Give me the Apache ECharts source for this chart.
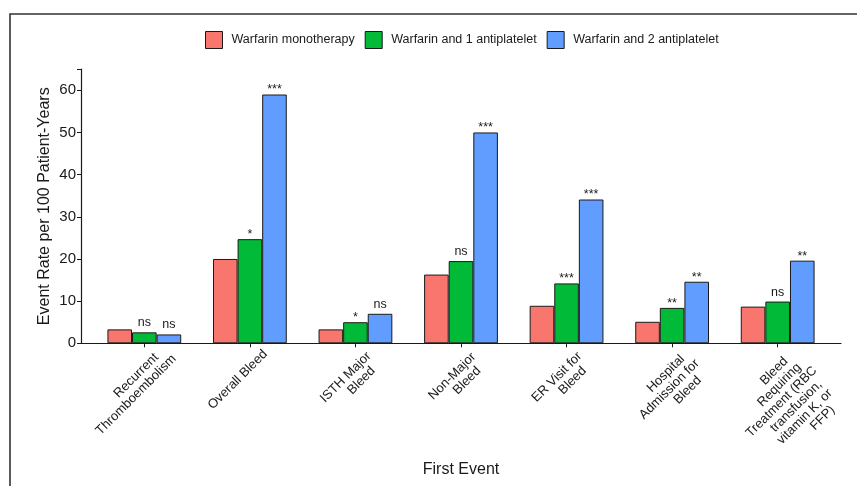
<!DOCTYPE html>
<html>
<head>
<meta charset="utf-8">
<script src="https://cdn.jsdelivr.net/npm/echarts@6/dist/echarts.min.js"></script>
<style>
  html, body { margin: 0; padding: 0; background: #fff; }
  #chart { width: 857px; height: 486px; }
</style>
</head>
<body>
<div id="chart"></div>
<script>
// Event categories (first event type)
const categories = [
  'Recurrent\nThromboembolism',
  'Overall Bleed',
  'ISTH Major\nBleed',
  'Non-Major\nBleed',
  'ER Visit for\nBleed',
  'Hospital\nAdmission for\nBleed',
  'Bleed\nRequiring\nTreatment (RBC\ntransfusion,\nvitamin K, or\nFFP)'
];

// Event rate per 100 patient-years
const warfarinMono = [3.3, 20.0, 3.3, 16.3, 8.9, 5.1, 8.7];
const warfarinOneAP = [2.6, 24.7, 5.0, 19.5, 14.2, 8.4, 9.9];
const warfarinTwoAP = [2.1, 59.0, 7.0, 50.0, 34.1, 14.6, 19.6];

// Significance versus warfarin monotherapy
const sigOneAP = ['ns', '*', '*', 'ns', '***', '**', 'ns'];
const sigTwoAP = ['ns', '***', 'ns', '***', '***', '**', '**'];

const seriesNames = ['Warfarin monotherapy', 'Warfarin and 1 antiplatelet', 'Warfarin and 2 antiplatelet'];
const yTicks = [0, 10, 20, 30, 40, 50, 60];

const FONT = '"Liberation Sans", Arial, sans-serif';
const INK = '#1a1a1a';

// Build bar data with a significance label on each bar
function withSig(values, sig) {
  return values.map((v, i) => ({
    value: v,
    label: {
      show: true,
      formatter: sig[i],
      distance: sig[i] === 'ns' ? 3 : -2
    }
  }));
}

const barLabel = { position: 'top', color: INK, fontSize: 12.5, fontFamily: FONT };

// Rotated category labels: lines justified at 77% of their width and the
// block hung from that same point, a little below and left of the tick.
const CAT_FONT_SIZE = 13;
const CAT_LINE_HEIGHT = 13.5;
const LINE_JUST = 0.77;
const LABEL_SHIFT = 12;      // content pushed along the text direction
const ANCHOR_ALONG = -13.2;  // hanging point, along the text direction
const ANCHOR_PERP = 10.4;    // hanging point, across the text direction

const measureCtx = document.createElement('canvas').getContext('2d');
measureCtx.font = CAT_FONT_SIZE + 'px ' + FONT;
const textWidth = s => measureCtx.measureText(s).width;

const catRich = {
  t: { fontSize: CAT_FONT_SIZE, lineHeight: CAT_LINE_HEIGHT, color: INK, fontFamily: FONT, align: 'right' }
};
const catLines = categories.map((cat, i) => cat.split('\n').map((line, j) => {
  const key = 'g' + i + '_' + j;
  const gap = Math.max(0, LABEL_SHIFT - ANCHOR_ALONG - (1 - LINE_JUST) * textWidth(line));
  catRich[key] = { width: gap, fontSize: CAT_FONT_SIZE, lineHeight: CAT_LINE_HEIGHT, align: 'right' };
  return '{t|' + line + '}{' + key + '| }';
}).join('\n'));

const chart = echarts.init(document.getElementById('chart'), null, { renderer: 'canvas' });

const option = {
  backgroundColor: '#ffffff',
  animation: false,
  textStyle: { fontFamily: FONT },
  legend: {
    data: seriesNames,
    left: 205,
    top: 31,
    padding: 0,
    itemWidth: 17,
    itemHeight: 17,
    itemGap: 10,
    icon: 'rect',
    itemStyle: { borderColor: INK, borderWidth: 1 },
    textStyle: { fontSize: 12.5, color: INK, fontFamily: FONT, padding: [0, 0, 0, 4] }
  },
  grid: [
    // frame grid: axis lines, y ticks and titles
    { left: 81, right: 16, top: 69.2, bottom: 142.7, containLabel: false },
    // bar grid: discrete categories inset from the axis ends
    { left: 91.55, right: 26.55, top: 69.2, bottom: 142.7, containLabel: false }
  ],
  xAxis: [
    {
      gridIndex: 0,
      type: 'value',
      min: 0,
      max: 1,
      axisLine: { show: true, lineStyle: { color: INK, width: 1.2 } },
      axisTick: { show: false },
      axisLabel: { show: false },
      splitLine: { show: false },
      name: 'First Event',
      nameLocation: 'middle',
      nameGap: 118,
      nameTextStyle: { fontSize: 16, color: INK, fontFamily: FONT }
    },
    {
      gridIndex: 1,
      type: 'category',
      data: categories,
      axisLine: { show: false },
      axisTick: { show: true, alignWithLabel: true, length: 4, lineStyle: { color: INK, width: 1 } },
      axisLabel: {
        interval: 0,
        rotate: 45,
        margin: 0,
        fontSize: CAT_FONT_SIZE,
        lineHeight: CAT_LINE_HEIGHT,
        color: INK,
        fontFamily: FONT,
        align: 'right',
        verticalAlign: 'top',
        padding: [ANCHOR_PERP, -LABEL_SHIFT, 0, 0],
        formatter: (value, index) => catLines[index],
        rich: catRich
      }
    }
  ],
  yAxis: [
    {
      gridIndex: 0,
      type: 'value',
      min: 0,
      max: 65,
      interval: 10,
      axisLine: { show: true, lineStyle: { color: INK, width: 1.2 } },
      axisTick: { show: true, length: 4, lineStyle: { color: INK, width: 1 } },
      axisLabel: {
        fontSize: 15,
        color: INK,
        fontFamily: FONT,
        margin: 5,
        formatter: v => (yTicks.indexOf(v) >= 0 ? String(v) : '')
      },
      splitLine: { show: false },
      name: 'Event Rate per 100 Patient-Years',
      nameLocation: 'middle',
      nameGap: 28,
      nameMoveOverlap: false,
      nameTextStyle: { fontSize: 16, color: INK, fontFamily: FONT }
    },
    {
      gridIndex: 1,
      type: 'value',
      min: 0,
      max: 65,
      interval: 10,
      show: false
    }
  ],
  series: [
    {
      name: seriesNames[0],
      type: 'bar',
      xAxisIndex: 1,
      yAxisIndex: 1,
      data: warfarinMono,
      barWidth: '23.3%',
      barGap: '0%',
      itemStyle: { color: '#F8766D', borderColor: INK, borderWidth: 1 }
    },
    {
      name: seriesNames[1],
      type: 'bar',
      xAxisIndex: 1,
      yAxisIndex: 1,
      data: withSig(warfarinOneAP, sigOneAP),
      barWidth: '23.3%',
      barGap: '0%',
      label: barLabel,
      itemStyle: { color: '#00BA38', borderColor: INK, borderWidth: 1 }
    },
    {
      name: seriesNames[2],
      type: 'bar',
      xAxisIndex: 1,
      yAxisIndex: 1,
      data: withSig(warfarinTwoAP, sigTwoAP),
      barWidth: '23.3%',
      barGap: '0%',
      label: barLabel,
      itemStyle: { color: '#619CFF', borderColor: INK, borderWidth: 1 }
    }
  ],
  graphic: [
    {
      type: 'polyline',
      silent: true,
      shape: { points: [[10, 486], [10, 14], [857, 14]] },
      style: { stroke: '#333333', lineWidth: 1.6, fill: null }
    }
  ]
};

chart.setOption(option);
</script>
</body>
</html>
